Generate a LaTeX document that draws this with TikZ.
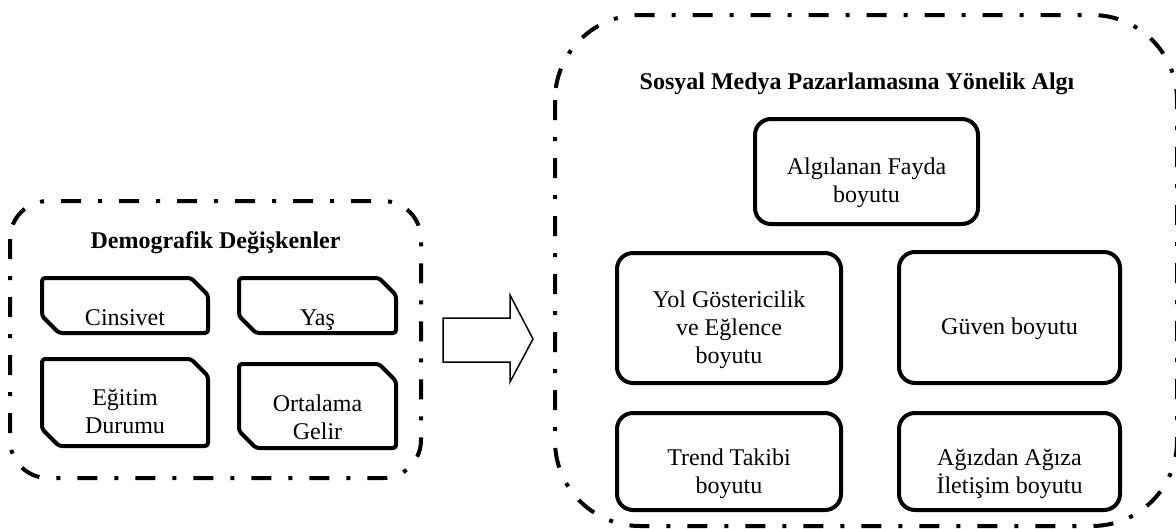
\documentclass[tikz,border=0pt]{standalone}
\usepackage{fontspec}
\setmainfont{Liberation Serif}
\begin{document}
\begin{tikzpicture}[x=1pt,y=-1pt,
  grp/.style={draw, line width=4pt, dash pattern=on 20pt off 17pt on 4pt off 17pt},
  rbox/.style={draw, line width=4pt, rounded corners=16pt, inner sep=0pt},
  txt/.style={font=\fontsize{24}{28}\selectfont, align=center, inner sep=0pt},
  ttl/.style={font=\fontsize{24}{28}\selectfont\bfseries, inner sep=0pt},
  snip/.style={draw, line width=4pt, rounded corners=3pt, line join=round},
  blockarrow/.style={draw, line width=1.5pt, line join=miter}
]
\useasboundingbox (0,0) rectangle (1176,528);

% outer groups
\draw[grp, rounded corners=38pt] (10,201) rectangle (421,478);
\draw[grp, rounded corners=85pt] (555,15) rectangle (1177,526);

% titles
\node[ttl] (demT) at (215.5,243) {Demografik Değişkenler};
\node[ttl] (smT) at (857,84) {Sosyal Medya Pazarlamasına Yönelik Algı};

% snipped boxes (left)
\draw[snip] (42,278) -- (191,278) -- (208,295) -- (208,333) -- (59,333) -- (42,316) -- cycle;
\draw[snip] (239,278) -- (379,278) -- (396,295) -- (396,333) -- (256,333) -- (239,316) -- cycle;
\draw[snip] (42,359) -- (191,359) -- (208,376) -- (208,446) -- (59,446) -- (42,429) -- cycle;
\draw[snip] (239,364) -- (379,364) -- (396,381) -- (396,448) -- (256,448) -- (239,431) -- cycle;

\node[txt, anchor=base] (cins) at (125,325) {Cinsivet};
\node[txt, anchor=base] (yas) at (317.5,325) {Yaş};
\node[txt] (egit) at (125,411) {Eğitim\\Durumu};
\node[txt] (gelir) at (317.5,417) {Ortalama\\Gelir};

% block arrow
\draw[blockarrow] (443,318) -- (510,318) -- (510,295) -- (533,339) -- (510,382) -- (510,362) -- (443,362) -- cycle;

% rounded boxes (right)
\node[rbox, minimum width=223pt, minimum height=105pt] (fayda) at (866.5,171.5) {};
\node[rbox, minimum width=224pt, minimum height=130pt] (yol) at (729,318) {};
\node[rbox, minimum width=221pt, minimum height=131pt] (guven) at (1009.5,317.5) {};
\node[rbox, minimum width=224pt, minimum height=97pt] (trend) at (729,461.5) {};
\node[rbox, minimum width=221pt, minimum height=97pt] (agiz) at (1009.5,461.5) {};

\node[txt] (faydaT) at ([yshift=-11.5pt]fayda.center) {Algılanan Fayda\\boyutu};
\node[txt] (yolT) at ([yshift=-11.5pt]yol.center) {Yol Göstericilik\\ve Eğlence\\boyutu};
\node[txt] (guvenT) at ([yshift=-11.5pt]guven.center) {Güven boyutu};
\node[txt] (trendT) at ([yshift=-12pt]trend.center) {Trend Takibi\\boyutu};
\node[txt] (agizT) at ([yshift=-12pt]agiz.center) {Ağızdan Ağıza\\İletişim boyutu};
\end{tikzpicture}
\end{document}
